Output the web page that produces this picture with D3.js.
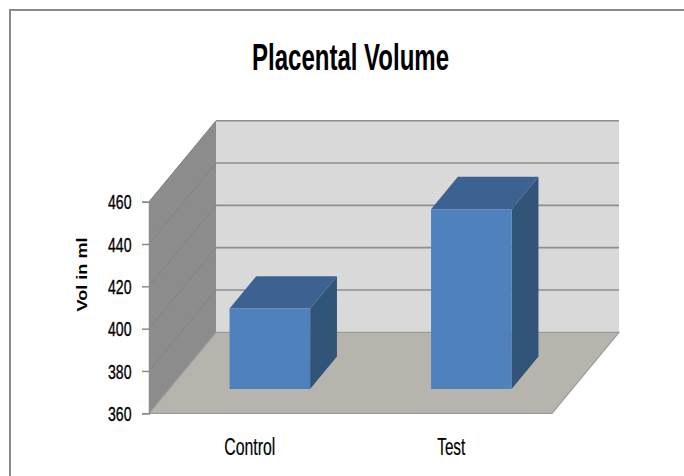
<!DOCTYPE html>
<html>
<head>
<meta charset="utf-8">
<script src="https://cdn.jsdelivr.net/npm/d3@7"></script>
<style>
  html, body { margin: 0; padding: 0; background: #fff; }
  svg { display: block; }
  text { font-family: "Liberation Sans", Arial, sans-serif; fill: #000; }
</style>
</head>
<body>
<div id="viz"></div>
<script>
const categories = ["Control", "Test"];
const volumes = [398, 445];
const tickValues = [360, 380, 400, 420, 440, 460];
const chartTitle = "Placental Volume";
const axisTitle = "Vol in ml";

document.addEventListener("DOMContentLoaded", () => {
    const width = 684;
    const height = 476;

    const svg = d3.select('#viz').append('svg')
        .attr('width', width)
        .attr('height', height);

    // outer frame (only top and left edges visible)
    svg.append('path')
        .attr('d', 'M10,477 L10,10 L684,10')
        .attr('fill', 'none')
        .attr('stroke', '#8a8a8a')
        .attr('stroke-width', 2);

    // front plane scales
    const x0 = 149, x1 = 552;
    const y = d3.scaleLinear().domain([360, 460]).range([413.3, 201.7]);
    const x = d3.scaleBand().domain(categories).range([x0, x1]).padding(0);

    // depth offset for the 3d look
    const DX = 67, DY = -81;
    const proj = (px, v, z) => [px + z * DX, y(v) + z * DY];
    const poly = pts => 'M' + pts.map(p => p.join(',')).join('L') + 'Z';

    const lo = y.domain()[0], hi = y.domain()[1];

    // back wall
    svg.append('path')
        .attr('d', poly([proj(x0, lo, 1), proj(x1, lo, 1), proj(x1, hi, 1), proj(x0, hi, 1)]))
        .attr('fill', '#d9d9d9');

    // side wall
    svg.append('path')
        .attr('d', poly([proj(x0, lo, 0), proj(x0, lo, 1), proj(x0, hi, 1), proj(x0, hi, 0)]))
        .attr('fill', '#8c8c8c');

    // gridlines
    const grid = tickValues.filter(v => v > lo);
    svg.append('g').selectAll('line.back')
        .data(grid)
        .enter()
        .append('line')
        .attr('x1', d => proj(x0, d, 1)[0])
        .attr('y1', d => proj(x0, d, 1)[1])
        .attr('x2', d => proj(x1, d, 1)[0])
        .attr('y2', d => proj(x1, d, 1)[1])
        .attr('stroke', '#8e8e8e')
        .attr('stroke-width', 1.6);

    svg.append('g').selectAll('line.side')
        .data(grid)
        .enter()
        .append('line')
        .attr('x1', d => proj(x0, d, 0)[0])
        .attr('y1', d => proj(x0, d, 0)[1])
        .attr('x2', d => proj(x0, d, 1)[0])
        .attr('y2', d => proj(x0, d, 1)[1])
        .attr('stroke', '#838383')
        .attr('stroke-width', 1);

    // floor
    svg.append('path')
        .attr('d', poly([proj(x0, lo, 0), proj(x1, lo, 0), proj(x1, lo, 1), proj(x0, lo, 1)]))
        .attr('fill', '#b7b4ad')
        .attr('stroke', '#9a9a9a')
        .attr('stroke-width', 1.2);

    // bars
    const z0 = 0.3, z1 = 0.7;
    const bw = x.bandwidth() * 0.4;
    const bars = svg.append('g').selectAll('g')
        .data(categories.map((c, i) => ({ cat: c, value: volumes[i] })))
        .enter()
        .append('g');

    const left = d => x(d.cat) + x.bandwidth() / 2 - bw / 2;
    const right = d => x(d.cat) + x.bandwidth() / 2 + bw / 2;

    bars.append('path')
        .attr('d', d => poly([proj(right(d), lo, z0), proj(right(d), lo, z1), proj(right(d), d.value, z1), proj(right(d), d.value, z0)]))
        .attr('fill', '#325479');

    bars.append('path')
        .attr('d', d => poly([proj(left(d), d.value, z0), proj(right(d), d.value, z0), proj(right(d), d.value, z1), proj(left(d), d.value, z1)]))
        .attr('fill', '#3c6291');

    bars.append('path')
        .attr('d', d => poly([proj(left(d), lo, z0), proj(right(d), lo, z0), proj(right(d), d.value, z0), proj(left(d), d.value, z0)]))
        .attr('fill', '#4f81bd');

    // value axis
    const axis = svg.append('g')
        .attr('transform', `translate(${x0},0)`)
        .call(d3.axisLeft(y).tickValues(tickValues).tickSize(7).tickPadding(10));
    axis.attr('font-size', null).attr('font-family', null);
    axis.select('.domain').attr('stroke', '#8c8c8c').attr('stroke-width', 1.5);
    axis.selectAll('.tick line').attr('stroke', '#8a8a8a').attr('stroke-width', 1.5);
    axis.selectAll('.tick text')
        .style('font-size', '20px')
        .attr('fill', '#000')
        .attr('stroke', '#000')
        .attr('stroke-width', 0.35)
        .attr('x', -17.5)
        .attr('dy', '0.36em')
        .attr('textLength', 23.5)
        .attr('lengthAdjust', 'spacingAndGlyphs');

    // category labels
    const labelWidths = { Control: 51, Test: 28 };
    svg.append('g').selectAll('text')
        .data(categories)
        .enter()
        .append('text')
        .attr('x', d => x(d) + x.bandwidth() / 2 - labelWidths[d] / 2)
        .attr('y', 455.3)
        .style('font-size', '23px')
        .attr('stroke', '#000')
        .attr('stroke-width', 0.2)
        .attr('textLength', d => labelWidths[d])
        .attr('lengthAdjust', 'spacingAndGlyphs')
        .text(d => d);

    // title
    svg.append('text')
        .attr('x', 252)
        .attr('y', 69.5)
        .style('font-size', '36px')
        .attr('font-weight', 'bold')
        .attr('textLength', 197)
        .attr('lengthAdjust', 'spacingAndGlyphs')
        .text(chartTitle);

    // axis title
    svg.append('text')
        .attr('transform', 'translate(86.5,311.5) rotate(-90)')
        .style('font-size', '14px')
        .attr('font-weight', 'bold')
        .attr('textLength', 74)
        .attr('lengthAdjust', 'spacingAndGlyphs')
        .text(axisTitle);
});
</script>
</body>
</html>
